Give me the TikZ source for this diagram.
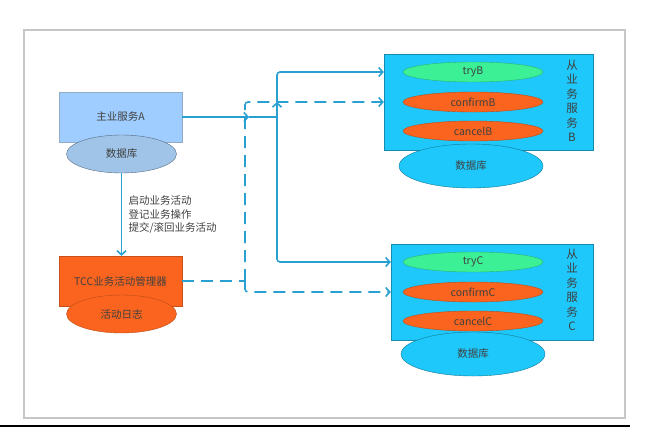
\documentclass[tikz,border=0pt]{standalone}
\usepackage{fontspec}
\setmainfont{Noto Sans CJK SC}
\usepackage{tikz}
\usetikzlibrary{arrows.meta, shapes.geometric, positioning}
\usepackage{xcolor}
\definecolor{lineBlue}{RGB}{40, 160, 210}
\definecolor{boxA}{RGB}{160, 205, 255}
\definecolor{dbAfill}{RGB}{160, 196, 232}
\definecolor{tccOrange}{RGB}{250, 100, 30}
\definecolor{svcCyan}{RGB}{30, 200, 250}
\definecolor{tryGreen}{RGB}{60, 240, 150}

\begin{document}
\begin{tikzpicture}[x=1pt, y=-1pt, >={Straight Barb[length=4pt, width=9pt]},
  font=\fontsize{10.5}{12}\selectfont, text=black!75,
  box/.style={draw, rectangle, inner sep=0pt, minimum width=123pt, minimum height=50pt},
  db/.style={draw, ellipse, inner sep=0pt, minimum width=110pt, minimum height=38pt},
  op/.style={draw=#1!75!black, fill=#1, ellipse, inner sep=0pt, minimum width=140pt, minimum height=20pt},
  svc/.style={draw=svcCyan!70!black, fill=svcCyan, rectangle, inner sep=0pt, minimum height=96pt},
  link/.style={lineBlue, line width=1.6pt, rounded corners=3pt},
  dashlink/.style={link, dash pattern=on 12pt off 7pt},
  vtext/.style={align=center, font=\fontsize{11.5}{14.5}\selectfont}]
  \useasboundingbox (0,0) rectangle (650,429);
  % frame
  \draw[gray!45, line width=1.5pt] (24,30) rectangle (625,418);
  \draw[black, line width=2pt] (0,426) -- (630,426);

  % main service A and manager
  \node[box, draw=boxA!55!gray, fill=boxA] (mainA) at (120.5,117) {主业服务A};
  \node[db, draw=dbAfill!55!black, fill=dbAfill] (dbA) at (121.5,154) {数据库};
  \node[box, draw=tccOrange!80!black, fill=tccOrange] (tcc) at (120.5,281) {TCC业务活动管理器};
  \node[db, draw=tccOrange!75!black, fill=tccOrange] (log) at (121.5,314) {活动日志};

  \draw[link, ->] (dbA.south) -- (dbA.south |- tcc.north);
  \node[anchor=west, align=left, font=\fontsize{10.5}{13.5}\selectfont] (steps) at (125,215)
    {启动业务活动\\登记业务操作\\提交/滚回业务活动};

  % service B
  \node[svc, minimum width=209pt] (svcB) at (488.5,102) {};
  \node[op=tryGreen] (tryB) at (473,72) {tryB};
  \node[op=tccOrange] (confirmB) at (473,102) {confirmB};
  \node[op=tccOrange] (cancelB) at (473,131) {cancelB};
  \node[db, draw=svcCyan!60!black, fill=svcCyan, minimum width=144pt, minimum height=44pt] (dbB) at (471,166) {数据库};
  \node[vtext] (nameB) at (572,101) {从\\业\\务\\服\\务\\B};

  % service C
  \node[svc, minimum width=202pt] (svcC) at (492,292) {};
  \node[op=tryGreen] (tryC) at (473,262) {tryC};
  \node[op=tccOrange] (confirmC) at (473,292) {confirmC};
  \node[op=tccOrange] (cancelC) at (473,321) {cancelC};
  \node[db, draw=svcCyan!60!black, fill=svcCyan, minimum width=144pt, minimum height=44pt] (dbC) at (473,354) {数据库};
  \node[vtext] (nameC) at (572,290) {从\\业\\务\\服\\务\\C};

  % try calls
  \coordinate (midA) at (249,117);
  \coordinate (split) at (277,117);
  \coordinate (midUp) at (277,102);
  \draw[link, ->] (mainA.east) -- (midA);
  \draw[link] (midA) -- (split);
  \draw[link, ->] (split) -- (midUp);
  \draw[link, ->] (midUp) |- (svcB.west |- tryB);
  \draw[link, ->] (split) |- (svcC.west |- tryC);

  % confirm / cancel calls
  \coordinate (dashTurn) at (245,281);
  \draw[dashlink] (tcc.east) -- (dashTurn);
  \draw[dashlink, ->] (dashTurn) |- (svcB.west |- confirmB);
  \draw[dashlink, ->] (dashTurn) |- (svcC.west |- confirmC);
\end{tikzpicture}
\end{document}
